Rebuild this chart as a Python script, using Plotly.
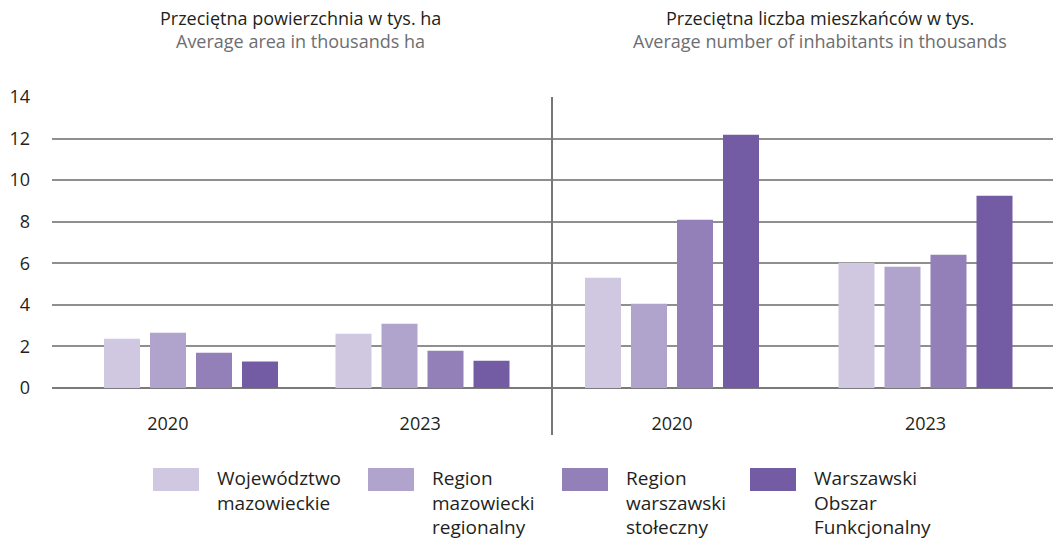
import plotly.graph_objects as go

# ---------------- data ----------------
years = ["2020", "2023"]
series_names = [
    "Województwo<br>mazowieckie",
    "Region<br>mazowiecki<br>regionalny",
    "Region<br>warszawski<br>stołeczny",
    "Warszawski<br>Obszar<br>Funkcjonalny",
]
colors = ["#D0C7E1", "#B0A4CD", "#9480B9", "#745CA5"]

# Average area in thousands ha
area_woj = [2.37, 2.61]
area_reg = [2.66, 3.09]
area_rws = [1.70, 1.79]
area_wof = [1.27, 1.31]

# Average number of inhabitants in thousands
pop_woj = [5.31, 6.03]
pop_reg = [4.05, 5.83]
pop_rws = [8.09, 6.41]
pop_wof = [12.18, 9.25]

y_ticks = [0, 2, 4, 6, 8, 10, 12, 14]

title_left = ("Przeciętna powierzchnia w tys. ha", "Average area in thousands ha")
title_right = ("Przeciętna liczba mieszkańców w tys.", "Average number of inhabitants in thousands")

# ---------------- layout geometry ----------------
W, H = 1053, 541
PLOT_L, PLOT_R, PLOT_T, PLOT_B = 52, 1053, 97, 388
ML, MR, MT, MB = PLOT_L, W - PLOT_R, PLOT_T, H - PLOT_B
PW = PLOT_R - PLOT_L
PH = PLOT_B - PLOT_T
DIV_PX = 552
FONT = "Open Sans"
TXT = "#231f20"


def px_x(px):
    return (px - PLOT_L) / PW


def px_y(py):
    return (PLOT_B - py) / PH


split = px_x(DIV_PX)

# px per category step for each panel
left_unit, left_c0 = 231.5, 191.0
right_unit, right_c0 = 253.5, 672.0
bar_px, slot_px = 36.0, 46.0

fig = go.Figure()

panels = [
    ("x", "y", [area_woj, area_reg, area_rws, area_wof], left_unit),
    ("x2", "y2", [pop_woj, pop_reg, pop_rws, pop_wof], right_unit),
]
xs = list(range(len(years)))
for xa, ya, vals_list, unit in panels:
    w = bar_px / unit
    s = slot_px / unit
    half = (3 * s + w) / 2
    for i, vals in enumerate(vals_list):
        fig.add_trace(go.Bar(
            x=xs, y=vals, width=w, offset=-half + i * s,
            marker=dict(color=colors[i], line=dict(width=0)),
            xaxis=xa, yaxis=ya, showlegend=False,
            hoverinfo="y",
        ))

axis_common = dict(showgrid=False, zeroline=False, showline=False, ticks="",
                   tickfont=dict(family=FONT, size=18, color=TXT),
                   ticklabelstandoff=23, type="linear", fixedrange=True)

yaxis_common = dict(range=[0, 14], tickvals=y_ticks, showgrid=True,
                    gridcolor="#8f8f8f", gridwidth=1.5, zeroline=True,
                    zerolinecolor="#7a7a7a", zerolinewidth=2, showline=False,
                    ticks="", fixedrange=True)

fig.update_layout(
    width=W, height=H,
    margin=dict(l=ML, r=MR, t=MT, b=MB),
    paper_bgcolor="white", plot_bgcolor="white",
    barmode="overlay",
    showlegend=False,
    xaxis=dict(domain=[0, split],
               range=[(PLOT_L - left_c0) / left_unit, (DIV_PX - left_c0) / left_unit],
               tickvals=[xs[0] - 0.1, xs[1] - 0.01], ticktext=years, anchor="y",
               **axis_common),
    xaxis2=dict(domain=[split, 1],
                range=[(DIV_PX - right_c0) / right_unit, (PLOT_R - right_c0) / right_unit],
                tickvals=xs, ticktext=years, anchor="y2", **axis_common),
    yaxis=dict(anchor="x", ticklabelstandoff=21,
               tickfont=dict(family=FONT, size=18, color=TXT), **yaxis_common),
    yaxis2=dict(anchor="x2", showticklabels=False, **yaxis_common),
)

# divider line between the two panels
fig.add_shape(type="line", xref="paper", yref="paper",
              x0=split, x1=split, y0=px_y(435), y1=1,
              line=dict(color="#777777", width=2))

# panel titles
for cx, (t1, t2) in [(300, title_left), (820, title_right)]:
    fig.add_annotation(x=px_x(cx), y=px_y(18), xref="paper", yref="paper",
                       text=t1, showarrow=False, xanchor="center", yanchor="middle",
                       font=dict(family=FONT, size=18, color=TXT))
    fig.add_annotation(x=px_x(cx), y=px_y(41), xref="paper", yref="paper",
                       text=t2, showarrow=False, xanchor="center", yanchor="middle",
                       font=dict(family=FONT, size=18, color="#6d6e71"))

# custom legend (large swatches + multi-line labels)
legend_x = [153, 368, 562, 750]
for i, name in enumerate(series_names):
    x0 = legend_x[i]
    fig.add_shape(type="rect", xref="paper", yref="paper",
                  x0=px_x(x0), x1=px_x(x0 + 46), y0=px_y(491), y1=px_y(468),
                  fillcolor=colors[i], line=dict(width=0))
    fig.add_annotation(x=px_x(x0 + 62), y=px_y(463), xref="paper", yref="paper",
                       text=name, showarrow=False, xanchor="left", yanchor="top",
                       align="left", font=dict(family=FONT, size=19, color=TXT))

fig.write_html(
    "out.html",
    config={"displayModeBar": False},
    post_script="document.body.style.margin='0';document.body.style.overflow='hidden';",
)
